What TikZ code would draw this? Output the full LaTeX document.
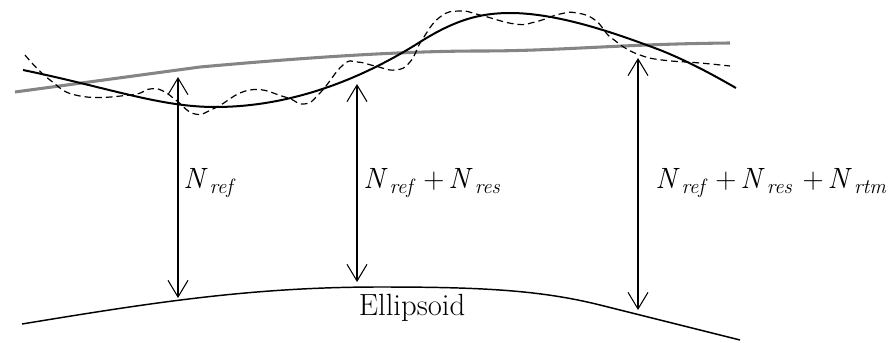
\documentclass[tikz,border=0pt]{standalone}
\usepackage{tikz}
\usetikzlibrary{arrows.meta}

\newcommand{\Nsub}[1]{\textit{N}\kern1.5pt\raisebox{-3.8pt}{\fontsize{15.5}{18}\selectfont\itshape #1}}
\newcommand{\plusgap}{\kern8pt+\kern3pt}

\begin{document}
\begin{tikzpicture}[x=0.75pt,y=-0.75pt,
    refline/.style={draw=black!48,line width=2.3pt},
    geoid/.style={draw=black,line width=1.5pt},
    truegeoid/.style={draw=black,line width=0.9pt,dash pattern=on 5pt off 3pt},
    ellips/.style={draw=black,line width=1.1pt},
    height/.style={{Straight Barb[length=12.5pt,width=15pt]}-{Straight Barb[length=12.5pt,width=15pt]},line width=0.8pt},
    lbl/.style={anchor=base west,inner sep=0pt,font=\fontsize{22}{26}\selectfont}
  ]
    \useasboundingbox (0,0) rectangle (894,343);
    \draw[refline] (15,92) -- (200,67) .. controls (300,58) and (400,51) .. (480,51)
      .. controls (560,51) and (620,44) .. (730,43);
    \draw[truegeoid] plot[smooth,tension=0.8] coordinates
      {(25,55) (50,80) (80,96) (130,95) (150,89) (163,91) (177,101)
       (195,114) (215,108) (250,90) (285,97) (304,104) (320,93) (343,65)
       (357,62) (375,66) (395,70) (410,62) (422,40) (440,17) (460,11)
       (480,15) (515,24) (535,22) (560,14) (577,13) (595,20) (609,36)
       (622,46) (640,55) (662,60) (700,63) (730,66)};
    \draw[geoid] (23,70) .. controls (110,88) and (160,107) .. (215,107)
      .. controls (290,107) and (360,80) .. (420,42)
      .. controls (455,20) and (480,13) .. (510,13)
      .. controls (560,13) and (620,35) .. (660,50)
      .. controls (690,62) and (715,76) .. (736,88);
    \draw[ellips] (22,324) .. controls (150,303) and (250,287) .. (380,287)
      .. controls (480,287) and (540,290) .. (600,305) -- (740,340);
    \coordinate (t1) at (178,77);
    \coordinate (b1) at (178,298);
    \coordinate (t2) at (357,84);
    \coordinate (b2) at (357,282);
    \coordinate (t3) at (638,58);
    \coordinate (b3) at (638,310);
    \draw[height] (t1) -- (b1);
    \draw[height] (t2) -- (b2);
    \draw[height] (t3) -- (b3);
    \node[lbl] (nref) at (183,188) {\Nsub{ref}};
    \node[lbl] (nres) at (363,188) {\Nsub{ref}\plusgap\Nsub{res}};
    \node[lbl] (nrtm) at (655,188) {\Nsub{ref}\plusgap\Nsub{res}\plusgap\Nsub{rtm}};
    \node[inner sep=0pt,font=\fontsize{23}{27}\selectfont] (ell) at (412,308) {Ellipsoid};
  \end{tikzpicture}
\end{document}
